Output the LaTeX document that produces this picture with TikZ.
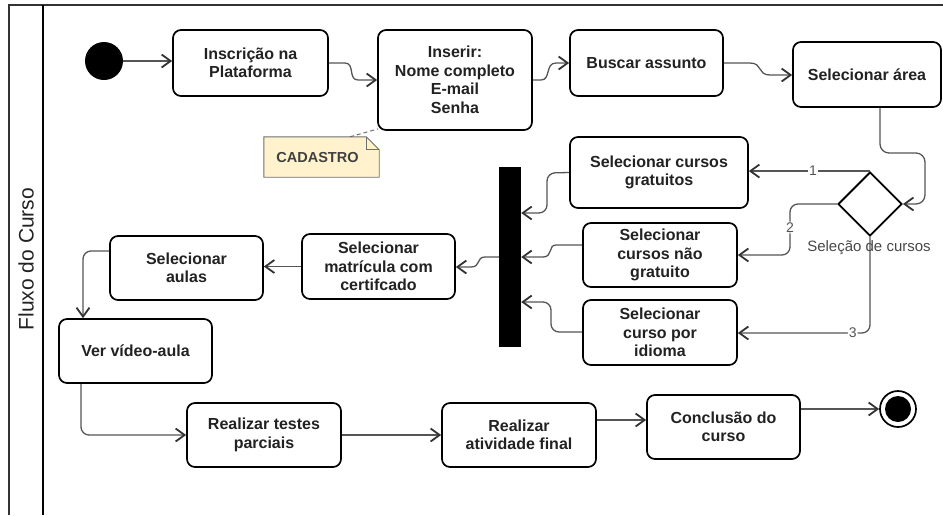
\documentclass[tikz,border=0pt]{standalone}
\usepackage{fontspec}
\setmainfont{Liberation Sans}
\usetikzlibrary{arrows.meta,shapes.geometric,calc}

\definecolor{edgegray}{HTML}{555555}
\definecolor{tipgray}{HTML}{333333}
\definecolor{txtdark}{HTML}{222222}
\definecolor{notefill}{HTML}{FFF2CC}
\definecolor{noteline}{HTML}{6E6E6E}

\tikzset{
  act/.style={draw=black, line width=1.7pt, rounded corners=8pt, fill=white,
    align=center, text=txtdark, inner sep=2pt,
    font=\fontsize{16}{18.5}\selectfont\bfseries},
  flow/.style={draw=edgegray, line width=1.3pt,
    -{Straight Barb[length=9pt,width=13pt,line width=1.8pt,color=tipgray]}},
  guardlbl/.style={fill=white, inner sep=1pt, text=edgegray,
    font=\fontsize{14}{16}\selectfont},
  forkbar/.style={fill=black, draw=none, minimum width=22pt, minimum height=180pt, inner sep=0pt},
}

\begin{document}
\begin{tikzpicture}[x=1pt, y=-1pt]
  \useasboundingbox (0,0) rectangle (943,515);

  % pool frame and lane header
  \draw[line width=1.2pt, draw=black!80] (9,515) -- (9,5) -- (943,5);
  \draw[line width=1.8pt] (43,5) -- (43,515);
  \node[rotate=90, font=\fontsize{21}{24}\selectfont, text=txtdark] (lane) at (26,259) {Fluxo do Curso};

  % initial and final nodes
  \node[circle, fill=black, minimum size=38pt, inner sep=0pt] (start) at (104,61) {};
  \node[circle, draw=black, line width=1.7pt, fill=white, minimum size=36pt, inner sep=0pt] (endc) at (898,409) {};
  \node[circle, fill=black, minimum size=26pt, inner sep=0pt] (endin) at (endc) {};

  % activities
  \node[act, minimum width=155pt, minimum height=66pt] (ins) at (250.5,63) {Inscrição na\\Plataforma};
  \node[act, minimum width=154pt, minimum height=100pt] (inserir) at (455,80) {Inserir:\\Nome completo\\E-mail\\Senha};
  \node[act, minimum width=153pt, minimum height=66pt] (buscar) at (646.5,63) {Buscar assunto};
  \node[act, minimum width=148pt, minimum height=65pt] (area) at (867,74.5) {Selecionar área};
  \node[act, minimum width=178pt, minimum height=71pt] (grat) at (659,172.5) {Selecionar cursos\\gratuitos};
  \node[act, minimum width=154pt, minimum height=64pt] (naog) at (660,255) {Selecionar\\cursos não\\gratuito};
  \node[act, minimum width=154pt, minimum height=65pt] (idioma) at (660,332.5) {Selecionar\\curso por\\idioma};
  \node[act, minimum width=153pt, minimum height=65pt] (matr) at (378.5,266.5) {Selecionar\\matrícula com\\certifcado};
  \node[act, minimum width=153pt, minimum height=64pt] (aulas) at (186.5,268) {Selecionar\\aulas};
  \node[act, minimum width=153pt, minimum height=64pt] (ver) at (135.5,351) {Ver vídeo-aula};
  \node[act, minimum width=154pt, minimum height=64pt] (testes) at (264,435) {Realizar testes\\parciais};
  \node[act, minimum width=154pt, minimum height=64pt] (final) at (519,435) {Realizar\\atividade final};
  \node[act, minimum width=153pt, minimum height=64pt] (concl) at (723.5,427) {Conclusão do\\curso};

  % decision and join bar
  \node[diamond, draw=black, line width=1.9pt, fill=white, minimum width=64pt, minimum height=64pt, inner sep=0pt, aspect=1] (dia) at (870,204) {};
  \node[forkbar] (bar) at (510,257) {};

  % note attached to the registration step
  \node[minimum width=115pt, minimum height=40pt, inner sep=0pt] (note) at (321.5,157) {};
  \draw[fill=notefill, draw=noteline, line width=0.9pt]
    (note.north west) -- ([xshift=-13pt]note.north east) -- ([yshift=-13pt]note.north east)
    -- (note.south east) -- (note.south west) -- cycle;
  \draw[draw=noteline, line width=0.9pt]
    ([xshift=-13pt]note.north east) -- ([xshift=-13pt,yshift=-13pt]note.north east) -- ([yshift=-13pt]note.north east);
  \node[font=\fontsize{14.5}{16}\selectfont\bfseries, text=black!75] (notetxt) at ([xshift=-4pt,yshift=-1pt]note.center) {CADASTRO};
  \draw[dashed, draw=noteline, line width=1pt, dash pattern=on 4pt off 3pt]
    ([xshift=28.5pt]note.north) -- ([xshift=1pt,yshift=2pt]inserir.south west);

  % main flow
  \draw[flow] (start.east) -- (start.east -| ins.west);
  \draw[flow] (ins.east) -- (345,63) .. controls (355,63) and (348,80) .. (358,80) -- (inserir.west);
  \draw[flow] (inserir.east) -- (541,80) .. controls (551,80) and (545,63) .. (556,63) -- (buscar.west);
  \draw[flow] (buscar.east) -- (750,63) .. controls (763,63) and (757,75) .. (770,75) -- (area.west |- 0,75);
  \draw[flow, rounded corners=9pt] ([xshift=13pt]area.south) -- (880,153) -- (925,153) -- (925,204) -- (dia.east);

  % decision branches
  \draw[flow] (dia.north) -- node[guardlbl, pos=0.47] (g1) {1} (dia.north -| grat.east);
  \draw[flow, rounded corners=8pt] (dia.west) -- (790,204) -- node[guardlbl, pos=0.46] (g2) {2} (790,255) -- (naog.east);
  \draw[flow, rounded corners=8pt] (dia.south) -- (870,333) -- node[guardlbl, pos=0.13] (g3) {3} (idioma.east |- 0,333);
  \node[font=\fontsize{15}{17}\selectfont, text=black!72] (dialbl) at (869,248) {Seleção de cursos};

  % into the join bar
  \draw[flow, rounded corners=8pt] (grat.west) -- (547,173) -- (547,213) -- (bar.east |- 0,213);
  \draw[flow] ([yshift=10pt]naog.west) -- (556,245) .. controls (548,245) and (553,257) .. (543,257) -- (bar.east);
  \draw[flow, rounded corners=8pt] (idioma.west |- 0,332) -- (551,332) -- (551,302) -- (bar.east |- 0,302);

  % after the join
  \draw[flow] (bar.west) -- (485,257) .. controls (476,257) and (481,267) .. (471,267) -- (matr.east |- 0,267);
  \draw[flow] (matr.west) -- (matr.west -| aulas.east);
  \draw[flow, rounded corners=8pt] ([yshift=17pt]aulas.west) -| ([xshift=-52.5pt]ver.north);
  \draw[flow, rounded corners=8pt] ([xshift=-54.5pt]ver.south) |- (testes.west);
  \draw[flow] (testes.east) -- (final.west);
  \draw[flow] ([yshift=15pt]final.east) -- ([yshift=7pt]concl.west);
  \draw[flow] ([yshift=18pt]concl.east) -- (endc.west);
\end{tikzpicture}
\end{document}
